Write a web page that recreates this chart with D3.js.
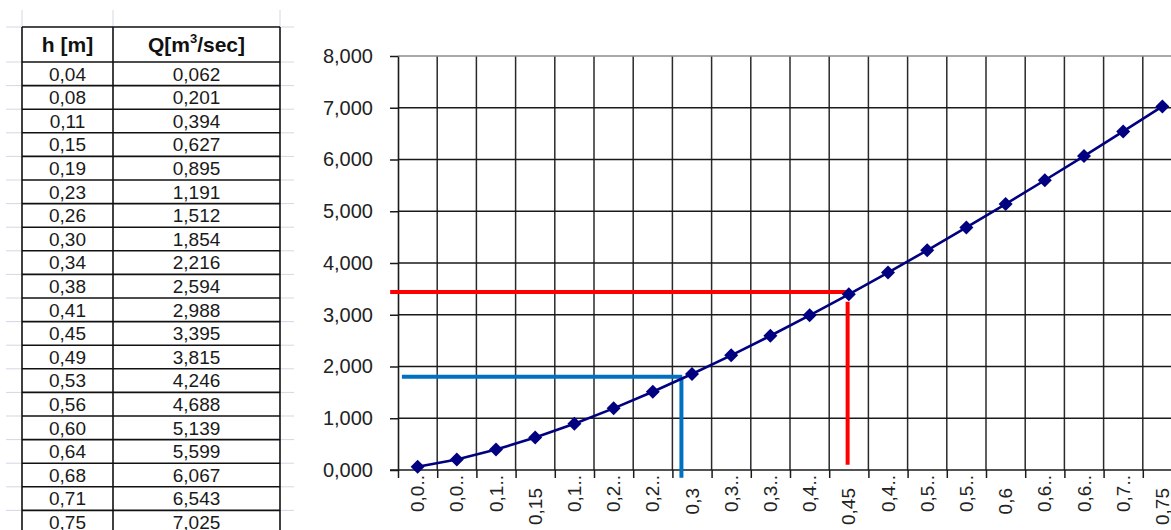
<!DOCTYPE html>
<html>
<head>
<meta charset="utf-8">
<script src="https://cdn.jsdelivr.net/npm/d3@7"></script>
<style>
  html, body { margin: 0; padding: 0; background: #fff; }
  svg { display: block; }
  text { font-family: Arial, "Liberation Sans", sans-serif; }
</style>
</head>
<body>
<svg id="chart" width="1171" height="530"></svg>
<script>
// ---------- data ----------
const hLabels = ["0,04","0,08","0,11","0,15","0,19","0,23","0,26","0,30","0,34","0,38",
                 "0,41","0,45","0,49","0,53","0,56","0,60","0,64","0,68","0,71","0,75"];
const qValues = [0.062,0.201,0.394,0.627,0.895,1.191,1.512,1.854,2.216,2.594,
                 2.988,3.395,3.815,4.246,4.688,5.139,5.599,6.067,6.543,7.025];
const xTickLabels = ["0,0..","0,0..","0,1..","0,15","0,1..","0,2..","0,2..","0,3","0,3..","0,3..",
                     "0,4..","0,45","0,4..","0,5..","0,5..","0,6","0,6..","0,6..","0,7..","0,75"];
const yTicks = [0,1,2,3,4,5,6,7,8];
// reading lines: [category position, value]
const redLineH = [[-0.7, 3.44],[10.97, 3.44]];
const redLineV = [[10.97, 3.25],[10.97, 0.1]];
const blueLineH = [[-0.4, 1.80],[6.75, 1.80]];
const blueLineV = [[6.73, 1.80],[6.73, -0.15]];

const svg = d3.select("#chart");
const fmt = v => d3.format(".3f")(v).replace(".", ",");

// ---------- spreadsheet background gridlines ----------
const tbl = {left: 22, mid: 113, right: 280, top: 27, headBottom: 62, rowH: 23.6};
const rowYs = d3.range(0, hLabels.length + 1).map(i => tbl.headBottom + i * tbl.rowH);
const sheetGrid = svg.append("g").attr("stroke", "#d0d7e5").attr("stroke-width", 1);
[tbl.top, ...rowYs].forEach(y => {
  sheetGrid.append("line").attr("x1", 6).attr("x2", 294).attr("y1", y).attr("y2", y);
});
[tbl.left, tbl.mid, tbl.right].forEach(x => {
  sheetGrid.append("line").attr("x1", x).attr("x2", x).attr("y1", 10).attr("y2", tbl.top);
});

// ---------- table ----------
const tg = svg.append("g");
tg.append("rect").attr("x", tbl.left).attr("y", tbl.top)
  .attr("width", tbl.right - tbl.left).attr("height", 530 - tbl.top + 10)
  .attr("fill", "#fff");
const tl = tg.append("g").attr("stroke", "#111").attr("stroke-width", 1.6);
[tbl.top, ...rowYs].forEach(y => {
  tl.append("line").attr("x1", tbl.left).attr("x2", tbl.right).attr("y1", y).attr("y2", y);
});
[tbl.left, tbl.mid, tbl.right].forEach(x => {
  tl.append("line").attr("x1", x).attr("x2", x).attr("y1", tbl.top).attr("y2", 540);
});
// header
tg.append("text").attr("x", (tbl.left + tbl.mid) / 2).attr("y", 52)
  .attr("text-anchor", "middle").attr("font-size", 21).attr("font-weight", "bold")
  .attr("fill", "#111").text("h [m]");
const qh = tg.append("text").attr("x", (tbl.mid + tbl.right) / 2).attr("y", 52)
  .attr("text-anchor", "middle").attr("font-size", 21).attr("font-weight", "bold")
  .attr("fill", "#111");
qh.append("tspan").text("Q[m");
qh.append("tspan").attr("font-size", 13).attr("dy", -9).text("3");
qh.append("tspan").attr("dy", 9).text("/sec]");
// rows
hLabels.forEach((h, i) => {
  const yc = tbl.headBottom + (i + 0.5) * tbl.rowH;
  tg.append("text").attr("x", (tbl.left + tbl.mid) / 2).attr("y", yc).attr("dy", "0.36em")
    .attr("text-anchor", "middle").attr("font-size", 19).attr("fill", "#1a1a1a").text(h);
  tg.append("text").attr("x", (tbl.mid + tbl.right) / 2).attr("y", yc).attr("dy", "0.36em")
    .attr("text-anchor", "middle").attr("font-size", 19).attr("fill", "#1a1a1a").text(fmt(qValues[i]));
});

// ---------- chart ----------
const catW = 39.2;
const plot = {left: 398, top: 56, bottom: 470};
const nCat = qValues.length;
const xLin = d3.scaleLinear().domain([0, nCat]).range([plot.left, plot.left + nCat * catW]);
const xc = i => xLin(i + 0.5);
const y = d3.scaleLinear().domain([0, 8]).range([plot.bottom, plot.top]);
const plotRight = xLin(nCat);

const cg = svg.append("g");
// vertical gridlines (category boundaries)
cg.append("g").selectAll("line").data(d3.range(1, nCat + 1)).join("line")
  .attr("x1", d => xLin(d)).attr("x2", d => xLin(d))
  .attr("y1", plot.top).attr("y2", plot.bottom)
  .attr("stroke", "#2a2a2a").attr("stroke-width", 1.5);
// horizontal gridlines
cg.append("g").selectAll("line").data(yTicks.filter(v => v > 0 && v < 8)).join("line")
  .attr("x1", plot.left).attr("x2", plotRight)
  .attr("y1", d => y(d)).attr("y2", d => y(d))
  .attr("stroke", "#1a1a1a").attr("stroke-width", 1.5);
// top border (grey)
cg.append("line").attr("x1", plot.left).attr("x2", plotRight)
  .attr("y1", y(8)).attr("y2", y(8)).attr("stroke", "#8c8c8c").attr("stroke-width", 1.5);

// y axis
const yAxis = d3.axisLeft(y).tickValues(yTicks).tickFormat(fmt).tickSizeInner(8).tickSizeOuter(0).tickPadding(17);
const yg = cg.append("g").attr("transform", `translate(${plot.left},0)`).call(yAxis);
yg.select(".domain").attr("stroke", "#1a1a1a").attr("stroke-width", 1.6);
yg.selectAll(".tick line").attr("stroke", "#1a1a1a").attr("stroke-width", 1.5);
yg.selectAll(".tick text").attr("font-size", 20).attr("fill", "#222")
  .attr("font-family", "Arial, 'Liberation Sans', sans-serif");

// x axis (ticks on category boundaries)
const xAxis = d3.axisBottom(xLin).tickValues(d3.range(0, nCat + 1)).tickFormat("").tickSizeInner(8).tickSizeOuter(0);
const xg = cg.append("g").attr("transform", `translate(0,${plot.bottom})`).call(xAxis);
xg.select(".domain").attr("stroke", "#1a1a1a").attr("stroke-width", 1.6)
  .attr("d", `M${plot.left - 8},0H${plotRight}`);
xg.selectAll(".tick line").attr("stroke", "#1a1a1a").attr("stroke-width", 1.5);

// x labels rotated
cg.append("g").selectAll("text").data(xTickLabels).join("text")
  .attr("transform", (d, i) => `translate(${xc(i)},${d.endsWith("..") ? 475 : 488}) rotate(-90)`)
  .attr("dy", "0.35em").attr("text-anchor", "end")
  .attr("font-size", 19).attr("fill", "#222").text(d => d);

// reading lines
const line = d3.line().x(d => xc(d[0])).y(d => y(d[1]));
[[redLineH, "#ff0000"], [redLineV, "#ff0000"], [blueLineH, "#0070c0"], [blueLineV, "#0070c0"]]
  .forEach(([pts, col]) => {
    cg.append("path").attr("d", line(pts)).attr("fill", "none")
      .attr("stroke", col).attr("stroke-width", 4);
  });

// series
const sLine = d3.line().x((d, i) => xc(i)).y(d => y(d));
cg.append("path").attr("d", sLine(qValues)).attr("fill", "none")
  .attr("stroke", "#000080").attr("stroke-width", 2.6);
const diamond = d3.symbol().type(d3.symbolSquare).size(98);
cg.append("g").selectAll("path").data(qValues).join("path")
  .attr("d", diamond)
  .attr("transform", (d, i) => `translate(${xc(i)},${y(d)}) rotate(45)`)
  .attr("fill", "#000080");
</script>
</body>
</html>
